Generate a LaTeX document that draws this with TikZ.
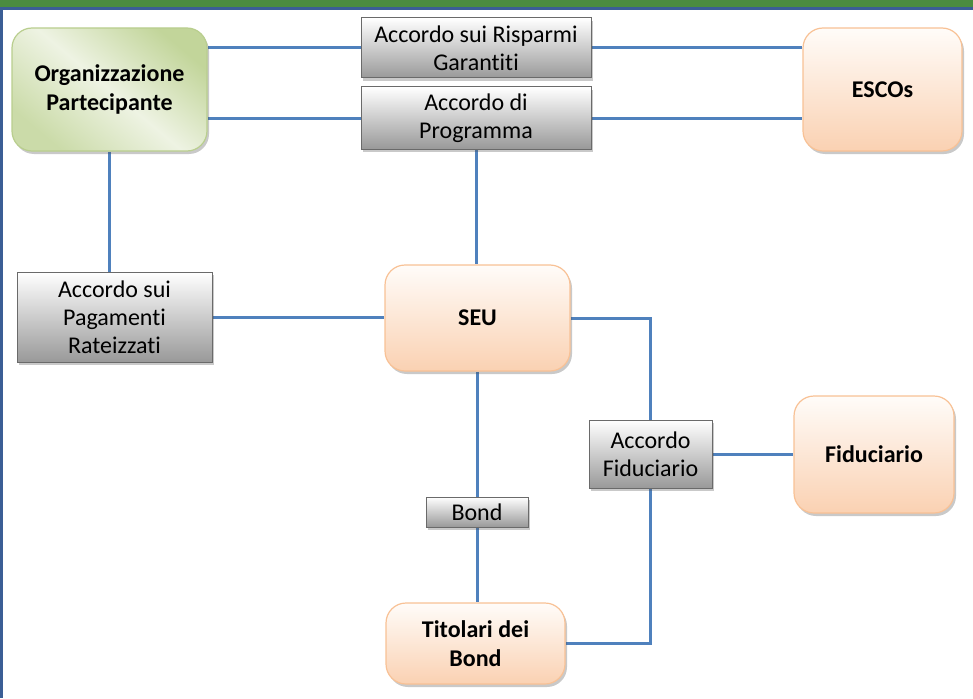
\documentclass[tikz,border=0pt]{standalone}
\usepackage{fontspec}
\setmainfont{Carlito}[Ligatures=NoCommon]
\usetikzlibrary{shadows,backgrounds}

\definecolor{barGreen}{HTML}{4B8C3F}
\definecolor{frameBlue}{HTML}{3B5E95}
\definecolor{linkBlue}{HTML}{4F81BD}
\definecolor{orgLight}{HTML}{EEF3E3}
\definecolor{orgDark}{HTML}{C2D59A}
\definecolor{orgEdge}{HTML}{B9CE8E}
\definecolor{entTop}{HTML}{FFFCF9}
\definecolor{entBottom}{HTML}{FAD1B2}
\definecolor{entEdge}{HTML}{F8C195}
\definecolor{accBottom}{HTML}{999999}
\definecolor{accEdge}{HTML}{6A6A6A}

\tikzset{
  link/.style={draw=linkBlue,line width=3pt},
  boxshadow/.style={drop shadow={shadow xshift=2pt,shadow yshift=-3pt,opacity=.3,fill=black!70}},
  ente/.style={rectangle,rounded corners=20pt,draw=entEdge,line width=1.2pt,top color=entTop,bottom color=entBottom,
    boxshadow,align=center,font=\fontsize{24}{29}\selectfont\bfseries,inner sep=0pt},
  orgbox/.style={ente,draw=orgEdge,top color=orgDark,bottom color=orgDark!80!orgLight,middle color=orgLight,shading angle=-40},
  accordo/.style={rectangle,draw=accEdge,line width=1pt,top color=white,bottom color=accBottom,
    boxshadow,align=center,font=\fontsize{24}{28}\selectfont,inner sep=0pt}
}

\begin{document}
\begin{tikzpicture}[x=1pt,y=-1pt]
\useasboundingbox (0,0) rectangle (973,698);
\fill[barGreen] (0,0) rectangle (973,7);
\draw[frameBlue,line width=3pt] (0,8.5) -- (973,8.5);
\draw[frameBlue,line width=3pt] (1.5,8) -- (1.5,698);

\node[orgbox,minimum width=195pt,minimum height=123pt] (org) at (109.5,89.5) {Organizzazione\\Partecipante};
\node[ente,minimum width=159pt,minimum height=123pt] (escos) at (882.5,89.5) {ESCOs};
\node[ente,minimum width=185pt,minimum height=106pt] (seu) at (477.5,318) {SEU};
\node[ente,minimum width=160pt,minimum height=117pt] (fiduciario) at (874,454.5) {Fiduciario};
\node[ente,minimum width=179pt,minimum height=81pt] (titolari) at (475.5,643.5) {Titolari dei\\Bond};

\node[accordo,minimum width=230pt,minimum height=60pt] (risparmi) at (476,48) {Accordo sui Risparmi\\Garantiti};
\node[accordo,minimum width=230pt,minimum height=62pt] (programma) at (476,118) {Accordo di\\Programma};
\node[accordo,minimum width=195pt,minimum height=90pt] (pagamenti) at (114.5,317) {Accordo sui\\Pagamenti\\Rateizzati};
\node[accordo,minimum width=123pt,minimum height=68pt] (fidaccordo) at (650.5,454) {Accordo\\Fiduciario};
\node[accordo,minimum width=102pt,minimum height=30pt] (bond) at (477,512) {Bond};

\begin{scope}[on background layer]
\draw[link] (risparmi.west) -- (risparmi.west -| org.east);
\draw[link] (risparmi.east) -- (risparmi.east -| escos.west);
\draw[link] (programma.west) -- (programma.west -| org.east);
\draw[link] (programma.east) -- (programma.east -| escos.west);
\draw[link] (programma.south) -- (programma.south |- seu.north);
\draw[link] (org.south) -- (org.south |- pagamenti.north);
\draw[link] (pagamenti.east) -- (pagamenti.east -| seu.west);
\draw[link] (seu.east) -| (fidaccordo.north);
\draw[link] (fidaccordo.east) -- (fidaccordo.east -| fiduciario.west);
\draw[link] (fidaccordo.south) |- (titolari.east);
\draw[link] (seu.south) -- (seu.south |- bond.north);
\draw[link] (bond.south) -- (bond.south |- titolari.north);
\end{scope}
\end{tikzpicture}
\end{document}
